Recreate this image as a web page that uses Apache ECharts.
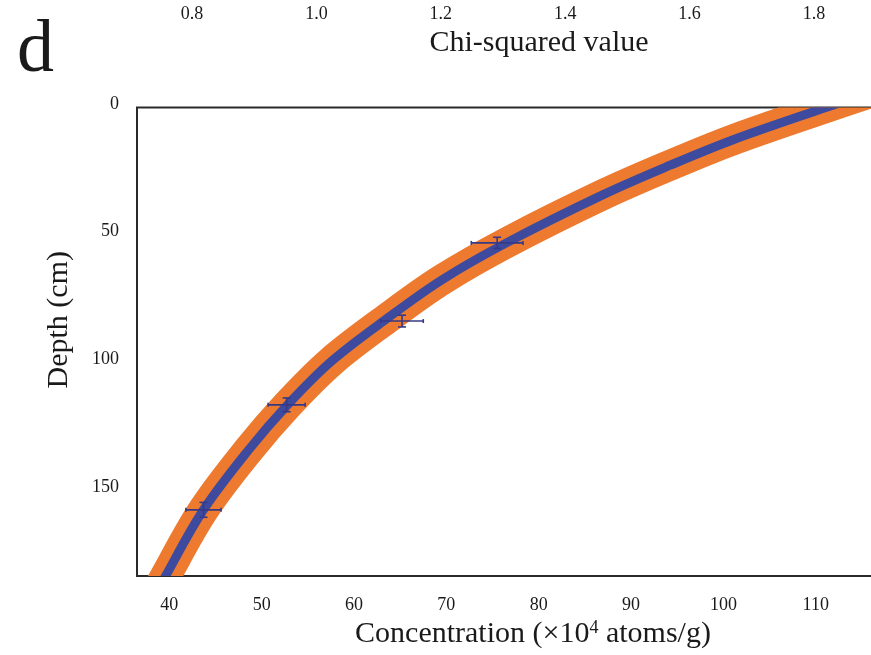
<!DOCTYPE html>
<html>
<head>
<meta charset="utf-8">
<script src="https://cdn.jsdelivr.net/npm/echarts@6/dist/echarts.min.js"></script>
<style>
  html, body { margin: 0; padding: 0; background: #fff; }
  #chart { width: 871px; height: 655px; }
</style>
</head>
<body>
<div id="chart"></div>
<script>
// fitted curve (concentration vs depth)
const curveDepth = [-6.9, 0, 12.7, 22.5, 33.9, 53.0, 67.5, 82.0, 99.2, 116.4, 134.0, 157.5, 183.4, 193.2]
const curveConc = [116.8, 111.1, 101.0, 94.3, 87.1, 76.5, 69.5, 63.8, 57.6, 52.8, 48.6, 43.7, 39.6, 38.2]

// measured samples with error bars
const pointConc = [75.5, 65.2, 52.7, 43.7]
const pointDepth = [53.0, 83.6, 116.4, 157.5]
const concErr = [2.8, 2.3, 2.0, 1.9]
const depthErr = [2.2, 2.3, 2.7, 2.9]

// tick labels of the panel above (cropped)
const chiTicks = [0.8, 1.0, 1.2, 1.4, 1.6, 1.8]

const serif = 'Liberation Serif, "Times New Roman", serif'
const ink = '#1a1a1a'

const chart = echarts.init(document.getElementById('chart'))

const curveData = curveDepth.map((d, i) => [curveConc[i], d])
const pointData = pointConc.map((c, i) => [c, pointDepth[i], concErr[i], depthErr[i]])

// the whole curve is drawn once, from the first item, so it can be clipped tight to the grid
function curveRenderer(color, width) {
  return function (params, api) {
    if (params.dataIndex !== 0) return null
    const pts = curveData.map(p => api.coord(p))
    return {
      type: 'polyline',
      shape: { points: pts, smooth: 0.35 },
      style: { stroke: color, lineWidth: width, fill: null }
    }
  }
}

function renderErrorBar(params, api) {
  const c = api.value(0)
  const d = api.value(1)
  const ex = api.value(2)
  const ey = api.value(3)
  const l = api.coord([c - ex, d])
  const r = api.coord([c + ex, d])
  const t = api.coord([c, d - ey])
  const b = api.coord([c, d + ey])
  const style = { stroke: '#363a86', lineWidth: 1.6 }
  const seg = (x1, y1, x2, y2) => ({ type: 'line', shape: { x1, y1, x2, y2 }, style })
  return {
    type: 'group',
    children: [
      seg(l[0], l[1], r[0], r[1]),
      seg(t[0], t[1], b[0], b[1]),
      seg(t[0] - 4, t[1], t[0] + 4, t[1]),
      seg(b[0] - 4, b[1], b[0] + 4, b[1]),
      seg(l[0], l[1] - 2, l[0], l[1] + 2),
      seg(r[0], r[1] - 2, r[0], r[1] + 2)
    ]
  }
}

const option = {
  backgroundColor: '#fff',
  animation: false,
  textStyle: { fontFamily: serif },
  graphic: [
    {
      type: 'text',
      left: 17,
      top: 15,
      style: { text: 'd', font: '74px ' + serif, fill: ink }
    }
  ],
  grid: [
    {
      left: 137,
      top: 107.5,
      right: -2,
      bottom: 79,
      outerBoundsMode: 'none',
      show: true,
      borderColor: '#2a2a2a',
      borderWidth: 2
    },
    {
      left: 192,
      right: 57,
      top: 0,
      height: 2,
      outerBoundsMode: 'none'
    }
  ],
  xAxis: [
    {
      type: 'value',
      min: 36.5,
      max: 116.2,
      minInterval: 10,
      maxInterval: 10,
      axisLine: { show: false },
      axisTick: { show: false },
      splitLine: { show: false },
      axisLabel: {
        margin: 20,
        fontSize: 18,
        color: ink,
        fontFamily: serif,
        formatter: v => (v % 10 === 0 ? String(v) : '')
      },
      name: 'Concentration (×10{sup|4} atoms/g)',
      nameLocation: 'middle',
      nameGap: 42,
      nameTextStyle: {
        fontSize: 30,
        color: ink,
        fontFamily: serif,
        padding: [0, 0, 0, 56],
        rich: { sup: { fontSize: 18, verticalAlign: 'top', padding: [0, 0, 12, 0], fontFamily: serif, color: ink } }
      }
    },
    {
      type: 'value',
      gridIndex: 1,
      min: 0.8,
      max: 1.8,
      interval: 0.2,
      axisLine: { show: false },
      axisTick: { show: false },
      splitLine: { show: false },
      axisLabel: {
        margin: 3,
        fontSize: 18,
        color: ink,
        fontFamily: serif,
        formatter: v => {
          const hit = chiTicks.find(t => Math.abs(t - v) < 1e-6)
          return hit === undefined ? '' : hit.toFixed(1)
        }
      },
      name: 'Chi-squared value',
      nameLocation: 'middle',
      nameGap: 26,
      nameTextStyle: { fontSize: 30, color: ink, fontFamily: serif, padding: [0, 0, 0, 72] }
    }
  ],
  yAxis: [
    {
      type: 'value',
      inverse: true,
      min: 0,
      max: 183.4,
      minInterval: 50,
      maxInterval: 50,
      axisLine: { show: false },
      axisTick: { show: false },
      splitLine: { show: false },
      axisLabel: {
        margin: 18,
        fontSize: 18,
        color: ink,
        fontFamily: serif,
        verticalAlign: 'bottom',
        lineHeight: 7,
        formatter: v => (v % 50 === 0 ? String(v) : '')
      },
      name: 'Depth (cm)',
      nameLocation: 'middle',
      nameGap: 63,
      nameTextStyle: { fontSize: 30, color: ink, fontFamily: serif, padding: [0, 0, 0, 44] }
    },
    {
      type: 'value',
      gridIndex: 1,
      show: false
    }
  ],
  series: [
    {
      name: 'range',
      type: 'custom',
      clip: true,
      renderItem: curveRenderer('#ee7a2f', 31),
      data: curveData,
      z: 2
    },
    {
      name: 'best fit',
      type: 'custom',
      clip: true,
      renderItem: curveRenderer('#3d4a9e', 9),
      data: curveData,
      z: 3
    },
    {
      name: 'samples',
      type: 'custom',
      renderItem: renderErrorBar,
      data: pointData,
      z: 4
    }
  ]
}

chart.setOption(option)
</script>
</body>
</html>
